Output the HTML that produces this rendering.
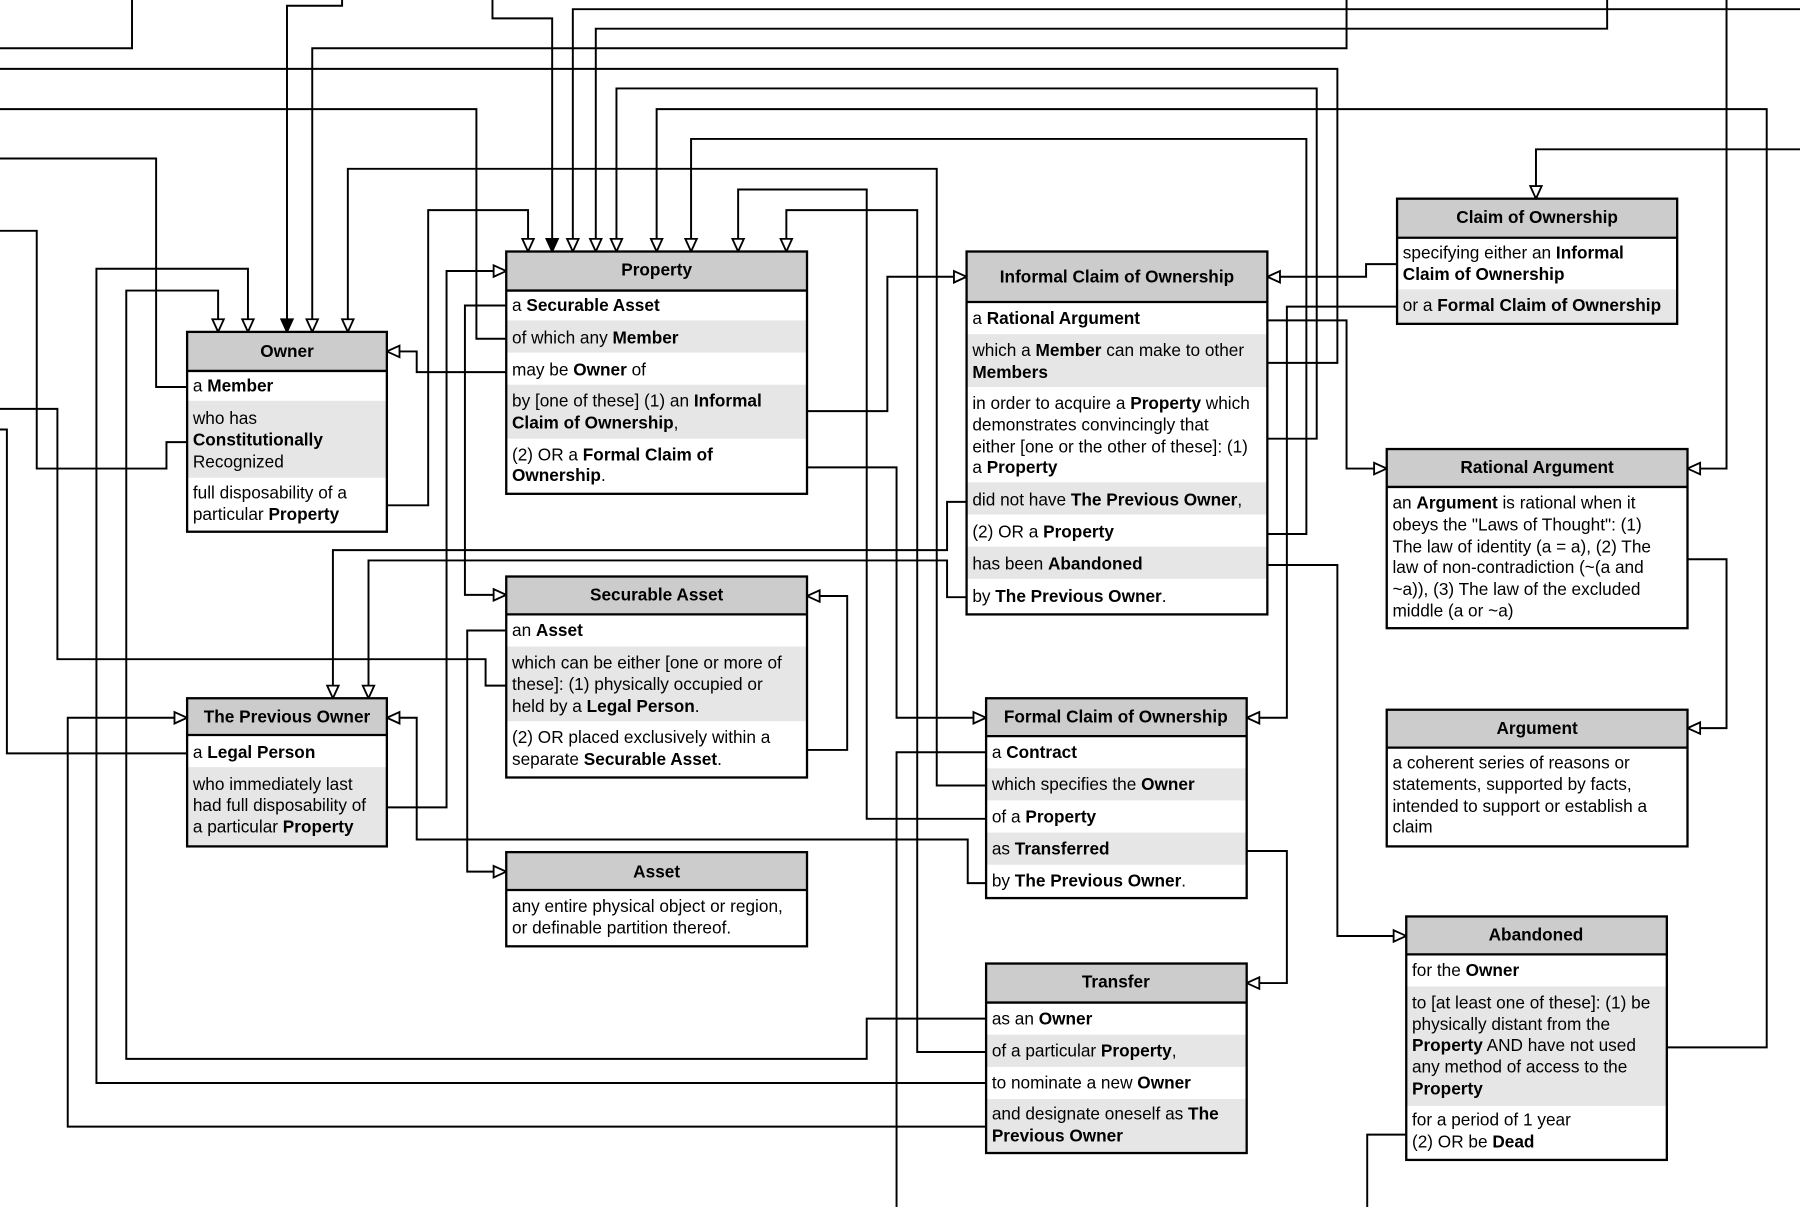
<!DOCTYPE html>
<html><head><meta charset="utf-8"><style>
html,body{margin:0;padding:0;background:#fff;}
svg{display:block;}
text{font-family:"Liberation Sans",Arial,sans-serif;font-size:15px;fill:#000;}
.h{font-weight:bold;text-anchor:middle;}
.b{font-weight:bold;}
.ln{fill:none;stroke:#000;stroke-width:1.7;}
.bx{fill:none;stroke:#000;stroke-width:2;}
</style></head><body>
<svg width="1800" height="1207" viewBox="0 0 1568 1051" preserveAspectRatio="none" xmlns="http://www.w3.org/2000/svg">
<defs>
<marker id="o" markerUnits="userSpaceOnUse" markerWidth="14" markerHeight="12" refX="11" refY="5" orient="auto" overflow="visible"><path d="M0,0 L11,5 L0,10 z" fill="#fff" stroke="#000" stroke-width="1.6"/></marker>
<marker id="f" markerUnits="userSpaceOnUse" markerWidth="14" markerHeight="12" refX="11" refY="5" orient="auto" overflow="visible"><path d="M0,0 L11,5 L0,10 z" fill="#000" stroke="#000" stroke-width="1.6"/></marker>
</defs>
<rect width="1568" height="1051" fill="#fff"/>
<g class="ln">
<polyline points="0,42 115,42 115,0"/>
<polyline points="298,0 298,5 250,5 250,289" marker-end="url(#f)"/>
<polyline points="429,0 429,16 481,16 481,219" marker-end="url(#f)"/>
<polyline points="1568,8 499,8 499,219" marker-end="url(#o)"/>
<polyline points="1400,0 1400,25 519,25 519,219" marker-end="url(#o)"/>
<polyline points="1173,0 1173,42 272,42 272,289" marker-end="url(#o)"/>
<polyline points="0,60 1165,60 1165,316 1104,316"/>
<polyline points="1104,382 1147,382 1147,77 537,77 537,219" marker-end="url(#o)"/>
<polyline points="1452,912 1539,912 1539,95 572,95 572,219" marker-end="url(#o)"/>
<polyline points="0,95 415,95 415,295 441,295"/>
<polyline points="1104,465 1138,465 1138,121 602,121 602,219" marker-end="url(#o)"/>
<polyline points="0,138 136,138 136,337 163,337"/>
<polyline points="859,684 816,684 816,147 303,147 303,289" marker-end="url(#o)"/>
<polyline points="859,713 755,713 755,165 643,165 643,219" marker-end="url(#o)"/>
<polyline points="337,440 373,440 373,183 460,183 460,219" marker-end="url(#o)"/>
<polyline points="859,916 799,916 799,183 685,183 685,219" marker-end="url(#o)"/>
<polyline points="0,201 32,201 32,408 145,408 145,385 163,385"/>
<polyline points="859,943 84,943 84,234 216,234 216,289" marker-end="url(#o)"/>
<polyline points="859,887 755,887 755,922 110,922 110,253 190,253 190,289" marker-end="url(#o)"/>
<polyline points="703,358 773,358 773,241 842,241" marker-end="url(#o)"/>
<polyline points="1217,230 1190,230 1190,241 1104,241" marker-end="url(#o)"/>
<polyline points="1217,267 1121,267 1121,625 1086,625" marker-end="url(#o)"/>
<polyline points="1104,279 1173,279 1173,408 1208,408" marker-end="url(#o)"/>
<polyline points="1568,130 1338,130 1338,173" marker-end="url(#o)"/>
<polyline points="842,437 825,437 825,479 290,479 290,608" marker-end="url(#o)"/>
<polyline points="842,520 825,520 825,488 321,488 321,608" marker-end="url(#o)"/>
<polyline points="1104,492 1165,492 1165,815 1225,815" marker-end="url(#o)"/>
<polyline points="1504,0 1504,408 1470,408" marker-end="url(#o)"/>
<polyline points="1470,487 1504,487 1504,634 1470,634" marker-end="url(#o)"/>
<polyline points="441,266 405,266 405,518 441,518" marker-end="url(#o)"/>
<polyline points="441,324 363,324 363,306 337,306" marker-end="url(#o)"/>
<polyline points="703,407 781,407 781,625 859,625" marker-end="url(#o)"/>
<polyline points="859,655 781,655 781,1051"/>
<polyline points="441,549 407,549 407,759 441,759" marker-end="url(#o)"/>
<polyline points="703,653 738,653 738,519 703,519" marker-end="url(#o)"/>
<polyline points="441,597 423,597 423,574 50,574 50,356 0,356"/>
<polyline points="163,656 6,656 6,374 0,374"/>
<polyline points="337,703 389,703 389,236 441,236" marker-end="url(#o)"/>
<polyline points="859,769 843,769 843,731 363,731 363,625 337,625" marker-end="url(#o)"/>
<polyline points="859,981 59,981 59,625 163,625" marker-end="url(#o)"/>
<polyline points="1086,741 1121,741 1121,856 1086,856" marker-end="url(#o)"/>
<polyline points="1225,988 1191,988 1191,1051"/>
</g>

<!-- Owner -->
<g>
<rect x="163" y="289" width="174" height="174" fill="#fff"/>
<rect x="163" y="289" width="174" height="34" fill="#ccc"/>
<rect x="163" y="349" width="174" height="67" fill="#e6e6e6"/>
<line x1="163" y1="323" x2="337" y2="323" stroke="#000" stroke-width="2"/>
<rect class="bx" x="163" y="289" width="174" height="174"/>
<text class="h" x="250" y="311">Owner</text>
<text x="168" y="341">a <tspan class="b">Member</tspan></text>
<text x="168" y="369">who has</text>
<text x="168" y="388" class="b">Constitutionally</text>
<text x="168" y="407">Recognized</text>
<text x="168" y="434">full disposability of a</text>
<text x="168" y="453">particular <tspan class="b">Property</tspan></text>
</g>

<!-- Property -->
<g>
<rect x="441" y="219" width="262" height="211" fill="#fff"/>
<rect x="441" y="219" width="262" height="34" fill="#ccc"/>
<rect x="441" y="279" width="262" height="28" fill="#e6e6e6"/>
<rect x="441" y="335" width="262" height="47" fill="#e6e6e6"/>
<line x1="441" y1="253" x2="703" y2="253" stroke="#000" stroke-width="2"/>
<rect class="bx" x="441" y="219" width="262" height="211"/>
<text class="h" x="572" y="240">Property</text>
<text x="446" y="271">a <tspan class="b">Securable Asset</tspan></text>
<text x="446" y="299">of which any <tspan class="b">Member</tspan></text>
<text x="446" y="327">may be <tspan class="b">Owner</tspan> of</text>
<text x="446" y="354">by [one of these] (1) an <tspan class="b">Informal</tspan></text>
<text x="446" y="373"><tspan class="b">Claim of Ownership</tspan>,</text>
<text x="446" y="401">(2) OR a <tspan class="b">Formal Claim of</tspan></text>
<text x="446" y="419"><tspan class="b">Ownership</tspan>.</text>
</g>

<!-- Informal Claim -->
<g>
<rect x="842" y="219" width="262" height="316" fill="#fff"/>
<rect x="842" y="219" width="262" height="44" fill="#ccc"/>
<rect x="842" y="291" width="262" height="46" fill="#e6e6e6"/>
<rect x="842" y="420" width="262" height="28" fill="#e6e6e6"/>
<rect x="842" y="476" width="262" height="28" fill="#e6e6e6"/>
<line x1="842" y1="263" x2="1104" y2="263" stroke="#000" stroke-width="2"/>
<rect class="bx" x="842" y="219" width="262" height="316"/>
<text class="h" x="973" y="246">Informal Claim of Ownership</text>
<text x="847" y="282">a <tspan class="b">Rational Argument</tspan></text>
<text x="847" y="310">which a <tspan class="b">Member</tspan> can make to other</text>
<text x="847" y="329" class="b">Members</text>
<text x="847" y="356">in order to acquire a <tspan class="b">Property</tspan> which</text>
<text x="847" y="375">demonstrates convincingly that</text>
<text x="847" y="394">either [one or the other of these]: (1)</text>
<text x="847" y="412">a <tspan class="b">Property</tspan></text>
<text x="847" y="440">did not have <tspan class="b">The Previous Owner</tspan>,</text>
<text x="847" y="468">(2) OR a <tspan class="b">Property</tspan></text>
<text x="847" y="496">has been <tspan class="b">Abandoned</tspan></text>
<text x="847" y="524">by <tspan class="b">The Previous Owner</tspan>.</text>
</g>

<!-- Claim of Ownership -->
<g>
<rect x="1217" y="173" width="244" height="109" fill="#fff"/>
<rect x="1217" y="173" width="244" height="34" fill="#ccc"/>
<rect x="1217" y="252" width="244" height="30" fill="#e6e6e6"/>
<line x1="1217" y1="207" x2="1461" y2="207" stroke="#000" stroke-width="2"/>
<rect class="bx" x="1217" y="173" width="244" height="109"/>
<text class="h" x="1339" y="194">Claim of Ownership</text>
<text x="1222" y="225">specifying either an <tspan class="b">Informal</tspan></text>
<text x="1222" y="244" class="b">Claim of Ownership</text>
<text x="1222" y="271">or a <tspan class="b">Formal Claim of Ownership</tspan></text>
</g>

<!-- Rational Argument -->
<g>
<rect x="1208" y="391" width="262" height="156" fill="#fff"/>
<rect x="1208" y="391" width="262" height="33" fill="#ccc"/>
<line x1="1208" y1="424" x2="1470" y2="424" stroke="#000" stroke-width="2"/>
<rect class="bx" x="1208" y="391" width="262" height="156"/>
<text class="h" x="1339" y="412">Rational Argument</text>
<text x="1213" y="443">an <tspan class="b">Argument</tspan> is rational when it</text>
<text x="1213" y="462">obeys the "Laws of Thought": (1)</text>
<text x="1213" y="481">The law of identity (a = a), (2) The</text>
<text x="1213" y="499">law of non-contradiction (~(a and</text>
<text x="1213" y="518">~a)), (3) The law of the excluded</text>
<text x="1213" y="537">middle (a or ~a)</text>
</g>

<!-- Securable Asset -->
<g>
<rect x="441" y="502" width="262" height="175" fill="#fff"/>
<rect x="441" y="502" width="262" height="33" fill="#ccc"/>
<rect x="441" y="563" width="262" height="65" fill="#e6e6e6"/>
<line x1="441" y1="535" x2="703" y2="535" stroke="#000" stroke-width="2"/>
<rect class="bx" x="441" y="502" width="262" height="175"/>
<text class="h" x="572" y="523">Securable Asset</text>
<text x="446" y="554">an <tspan class="b">Asset</tspan></text>
<text x="446" y="582">which can be either [one or more of</text>
<text x="446" y="601">these]: (1) physically occupied or</text>
<text x="446" y="620">held by a <tspan class="b">Legal Person</tspan>.</text>
<text x="446" y="647">(2) OR placed exclusively within a</text>
<text x="446" y="666">separate <tspan class="b">Securable Asset</tspan>.</text>
</g>

<!-- The Previous Owner -->
<g>
<rect x="163" y="608" width="174" height="129" fill="#fff"/>
<rect x="163" y="608" width="174" height="32" fill="#ccc"/>
<rect x="163" y="668" width="174" height="69" fill="#e6e6e6"/>
<line x1="163" y1="640" x2="337" y2="640" stroke="#000" stroke-width="2"/>
<rect class="bx" x="163" y="608" width="174" height="129"/>
<text class="h" x="250" y="629">The Previous Owner</text>
<text x="168" y="660">a <tspan class="b">Legal Person</tspan></text>
<text x="168" y="688">who immediately last</text>
<text x="168" y="706">had full disposability of</text>
<text x="168" y="725">a particular <tspan class="b">Property</tspan></text>
</g>

<!-- Formal Claim -->
<g>
<rect x="859" y="608" width="227" height="174" fill="#fff"/>
<rect x="859" y="608" width="227" height="33" fill="#ccc"/>
<rect x="859" y="669" width="227" height="28" fill="#e6e6e6"/>
<rect x="859" y="725" width="227" height="28" fill="#e6e6e6"/>
<line x1="859" y1="641" x2="1086" y2="641" stroke="#000" stroke-width="2"/>
<rect class="bx" x="859" y="608" width="227" height="174"/>
<text class="h" x="972" y="629">Formal Claim of Ownership</text>
<text x="864" y="660">a <tspan class="b">Contract</tspan></text>
<text x="864" y="688">which specifies the <tspan class="b">Owner</tspan></text>
<text x="864" y="716">of a <tspan class="b">Property</tspan></text>
<text x="864" y="744">as <tspan class="b">Transferred</tspan></text>
<text x="864" y="772">by <tspan class="b">The Previous Owner</tspan>.</text>
</g>

<!-- Argument -->
<g>
<rect x="1208" y="618" width="262" height="119" fill="#fff"/>
<rect x="1208" y="618" width="262" height="33" fill="#ccc"/>
<line x1="1208" y1="651" x2="1470" y2="651" stroke="#000" stroke-width="2"/>
<rect class="bx" x="1208" y="618" width="262" height="119"/>
<text class="h" x="1339" y="639">Argument</text>
<text x="1213" y="669">a coherent series of reasons or</text>
<text x="1213" y="688">statements, supported by facts,</text>
<text x="1213" y="707">intended to support or establish a</text>
<text x="1213" y="725">claim</text>
</g>

<!-- Asset -->
<g>
<rect x="441" y="742" width="262" height="82" fill="#fff"/>
<rect x="441" y="742" width="262" height="33" fill="#ccc"/>
<line x1="441" y1="775" x2="703" y2="775" stroke="#000" stroke-width="2"/>
<rect class="bx" x="441" y="742" width="262" height="82"/>
<text class="h" x="572" y="764">Asset</text>
<text x="446" y="794">any entire physical object or region,</text>
<text x="446" y="813">or definable partition thereof.</text>
</g>

<!-- Abandoned -->
<g>
<rect x="1225" y="798" width="227" height="212" fill="#fff"/>
<rect x="1225" y="798" width="227" height="33" fill="#ccc"/>
<rect x="1225" y="859" width="227" height="104" fill="#e6e6e6"/>
<line x1="1225" y1="831" x2="1452" y2="831" stroke="#000" stroke-width="2"/>
<rect class="bx" x="1225" y="798" width="227" height="212"/>
<text class="h" x="1338" y="819">Abandoned</text>
<text x="1230" y="850">for the <tspan class="b">Owner</tspan></text>
<text x="1230" y="878">to [at least one of these]: (1) be</text>
<text x="1230" y="897">physically distant from the</text>
<text x="1230" y="915"><tspan class="b">Property</tspan> AND have not used</text>
<text x="1230" y="934">any method of access to the</text>
<text x="1230" y="953" class="b">Property</text>
<text x="1230" y="980">for a period of 1 year</text>
<text x="1230" y="999">(2) OR be <tspan class="b">Dead</tspan></text>
</g>

<!-- Transfer -->
<g>
<rect x="859" y="839" width="227" height="165" fill="#fff"/>
<rect x="859" y="839" width="227" height="34" fill="#ccc"/>
<rect x="859" y="901" width="227" height="28" fill="#e6e6e6"/>
<rect x="859" y="957" width="227" height="47" fill="#e6e6e6"/>
<line x1="859" y1="873" x2="1086" y2="873" stroke="#000" stroke-width="2"/>
<rect class="bx" x="859" y="839" width="227" height="165"/>
<text class="h" x="972" y="860">Transfer</text>
<text x="864" y="892">as an <tspan class="b">Owner</tspan></text>
<text x="864" y="920">of a particular <tspan class="b">Property</tspan>,</text>
<text x="864" y="948">to nominate a new <tspan class="b">Owner</tspan></text>
<text x="864" y="975">and designate oneself as <tspan class="b">The</tspan></text>
<text x="864" y="994" class="b">Previous Owner</text>
</g>
</svg>
</body></html>
